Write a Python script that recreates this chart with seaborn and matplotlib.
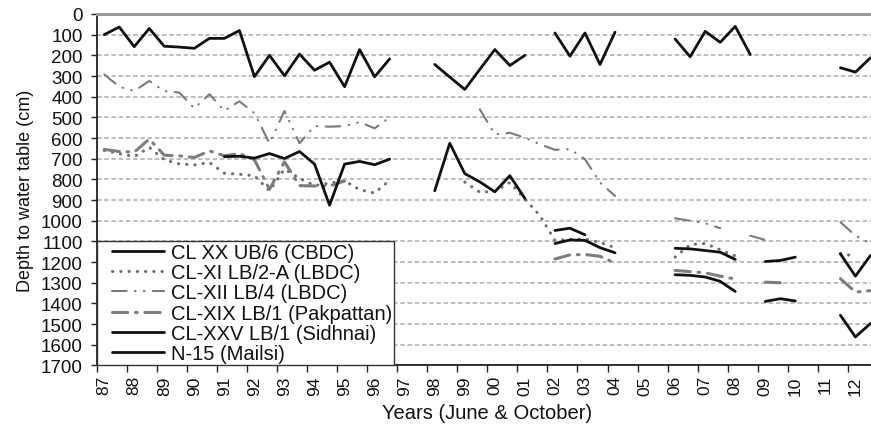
import numpy as np
import pandas as pd
import matplotlib
matplotlib.use("Agg")
import matplotlib.pyplot as plt
from matplotlib.lines import Line2D
from matplotlib.legend_handler import HandlerLine2D
import seaborn as sns

nan = np.nan

# Observation years; each year has a June and an October reading
years = list(range(1987, 2013))
year_labels = [f"{y % 100:02d}" for y in years]

series_names = [
    "CL XX UB/6 (CBDC)",
    "CL-XI LB/2-A (LBDC)",
    "CL-XII LB/4 (LBDC)",
    "CL-XIX LB/1 (Pakpattan)",
    "CL-XXV LB/1 (Sidhnai)",
    "N-15 (Mailsi)",
]

# Depth to water table (cm), 52 readings: Jun/Oct 1987 ... Jun/Oct 2012
cbdc = [100, 63, 158, 70, 156, 160, 166, 118, 118, 80,
        303, 200, 299, 194, 272, 233, 352, 172, 304, 217,
        nan, nan, 244, 305, 365, 268, 172, 249, 200, nan,
        92, 204, 92, 244, 88, nan, nan, nan, 121, 207,
        84, 137, 60, 196, nan, nan, nan, nan, nan, 260,
        281, 212]

lbdc_xi = [660, 675, 690, 645, 705, 725, 730, 718, 770, 775,
           782, 855, 750, 795, 830, 818, 807, 850, 866, 804,
           nan, nan, nan, nan, 813, 862, 858, 815, 895, 975,
           1095, 1090, 1088, 1105, 1130, nan, nan, nan, 1176, 1115,
           1110, 1140, 1170, nan, nan, nan, nan, nan, nan, 1158,
           1172, nan]

lbdc_xii = [292, 352, 372, 324, 373, 380, 456, 388, 468, 422,
            480, 625, 469, 625, 542, 545, 542, 523, 553, 500,
            nan, nan, nan, nan, nan, 461, 582, 575, 598, 630,
            657, 654, 702, 815, 880, nan, nan, nan, 988, 1000,
            1012, 1036, nan, 1072, 1093, nan, nan, nan, nan, 1007,
            1072, 1110]

pakpattan = [655, 665, 668, 605, 683, 686, 694, 662, 686, 675,
             705, 848, 715, 830, 832, 832, 808, nan, nan, nan,
             nan, nan, nan, nan, nan, nan, nan, nan, nan, nan,
             1185, 1165, 1163, 1172, 1205, nan, nan, nan, 1240, 1246,
             1252, 1268, 1282, nan, 1297, 1300, nan, nan, nan, 1280,
             1345, 1338]

sidhnai = [nan, nan, nan, nan, nan, nan, nan, nan, 690, 688,
           697, 675, 699, 665, 726, 925, 726, 713, 729, 702,
           nan, nan, 855, 625, 772, 812, 860, 782, 892, nan,
           1047, 1036, 1068, nan, nan, nan, nan, nan, 1133, 1136,
           1144, 1152, 1187, nan, 1197, 1192, 1176, nan, nan, 1160,
           1268, 1168]

mailsi = [nan] * 30 + [1110, 1093, 1095, 1130, 1155, nan, nan, nan, 1261, 1264,
                       1272, 1293, 1342, nan, 1390, 1377, 1388, nan, nan, 1457,
                       1562, 1497]

values = [cbdc, lbdc_xi, lbdc_xii, pakpattan, sidhnai, mailsi]

# Line styles per well
styles = {
    "CL XX UB/6 (CBDC)": dict(color="#111111", lw=2.0, ls="-"),
    "CL-XI LB/2-A (LBDC)": dict(color="#6e6e6e", lw=2.2, ls=(0, (0.1, 2.6)),
                                dash_capstyle="round"),
    "CL-XII LB/4 (LBDC)": dict(color="#7a7a7a", lw=1.5, ls=(0, (7, 4, 0.3, 4, 0.3, 4)),
                               dash_capstyle="round"),
    "CL-XIX LB/1 (Pakpattan)": dict(color="#7d7d7d", lw=2.2, ls=(0, (5, 2.5, 0.6, 2.5)),
                                    dash_capstyle="round"),
    "CL-XXV LB/1 (Sidhnai)": dict(color="#111111", lw=2.0, ls="-"),
    "N-15 (Mailsi)": dict(color="#111111", lw=2.0, ls="-"),
}

# Long table; a new segment starts after every missing reading
rows = []
for name, vals in zip(series_names, values):
    seg = 0
    prev_missing = True
    for i, v in enumerate(vals):
        if np.isnan(v):
            prev_missing = True
            continue
        if prev_missing:
            seg += 1
            prev_missing = False
        rows.append(dict(obs=i, depth=v, well=name, segment=seg))
df = pd.DataFrame(rows)

sns.set_theme(style="white")
plt.rcParams["font.family"] = ["Liberation Sans", "DejaVu Sans"]

fig, ax = plt.subplots(figsize=(8.71, 4.27), dpi=100)
fig.subplots_adjust(left=0.111, right=1.008, bottom=0.1417, top=0.9649)

for name in series_names:
    sub = df[df["well"] == name]
    sns.lineplot(data=sub, x="obs", y="depth", units="segment", estimator=None,
                 ax=ax, legend=False, sort=True, **styles[name])

ax.set_xlim(-0.5, 2 * len(years) - 0.5)
ax.set_ylim(1700, 0)
ax.set_yticks(range(0, 1701, 100))

ax.set_xticks(range(0, 2 * len(years), 2))
ax.set_xticklabels(year_labels, rotation=90)
ax.set_xticks(np.arange(-0.5, 2 * len(years), 2), minor=True)

ax.tick_params(axis="y", which="major", left=True, length=4, width=1, color="#222222",
               direction="out", pad=6, labelsize=13.5, labelcolor="#111111")
ax.tick_params(axis="x", which="major", bottom=True, length=0, pad=7,
               labelsize=12.5, labelcolor="#111111")
ax.tick_params(axis="x", which="minor", bottom=True, length=5, width=1,
               color="#222222", direction="out")

ax.yaxis.grid(True, linestyle=(0, (2.5, 1.5)), color="#b8b8b8", lw=1.3)
ax.xaxis.grid(False)
ax.set_axisbelow(True)

for side in ("left", "bottom"):
    ax.spines[side].set_color("#222222")
    ax.spines[side].set_linewidth(1.3)
ax.spines["top"].set_color("#9a9a9a")
ax.spines["top"].set_linewidth(2.2)
ax.spines["right"].set_visible(False)

ax.set_ylabel("Depth to water table (cm)", fontsize=13, color="#111111", labelpad=5)
ax.set_xlabel("Years (June & October)", fontsize=14.5, color="#111111", labelpad=6)

handles = []
for name in series_names:
    st = styles[name]
    handles.append(Line2D([], [], color=st["color"], lw=st["lw"], linestyle=st["ls"],
                          dash_capstyle=st.get("dash_capstyle", "butt")))
leg = ax.legend(handles, series_names, loc="lower left", bbox_to_anchor=(0, 0),
                borderaxespad=0, fontsize=14.5, handlelength=3.2, handletextpad=0.35,
                borderpad=0.12, labelspacing=0.06, frameon=True, fancybox=False,
                edgecolor="#333333", framealpha=1,
                handler_map={Line2D: HandlerLine2D(xpad=0.65)})
leg.get_frame().set_linewidth(1.0)
for t in leg.get_texts():
    t.set_color("#111111")

fig.savefig("out.png", dpi=100)
